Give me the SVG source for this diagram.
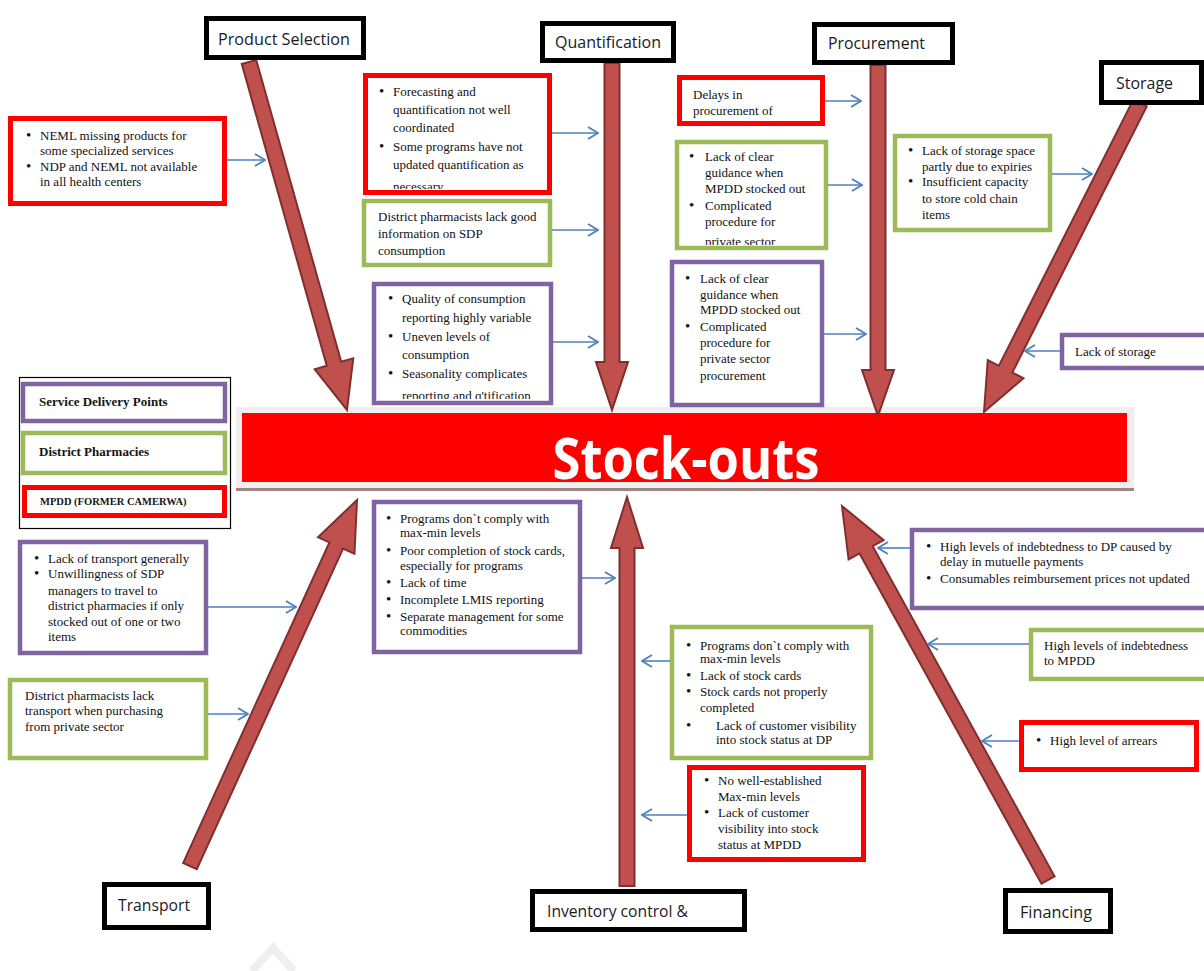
<svg xmlns="http://www.w3.org/2000/svg" width="1204" height="971" viewBox="0 0 1204 971">
<style>
.bg{fill:#ffffff}
.cat rect{fill:#ffffff;stroke:#000000;stroke-width:5}
.cat text{font-family:"Open Sans","Liberation Sans",sans-serif;font-size:16px;fill:#1a1a24}
.box{fill:#ffffff}
.r{stroke:#ff0000;stroke-width:5}
.g{stroke:#9bbb59;stroke-width:4.5}
.p{stroke:#8064a2;stroke-width:4.5}
.t{font-family:"Liberation Serif","Times New Roman",serif;font-size:13px;fill:#111111}
.b{font-size:15px}
.lg{font-family:"Liberation Serif","Times New Roman",serif;font-weight:bold;fill:#151515}
.spine{fill:#c0504d;stroke:#7f2f2d;stroke-width:2;stroke-linejoin:miter}
.conn line{stroke:#4f81bd;stroke-width:1.6;marker-end:url(#chev)}
</style>
<defs>
<marker id="chev" viewBox="0 0 12 14" refX="11" refY="7" markerWidth="12" markerHeight="14" markerUnits="userSpaceOnUse" orient="auto">
<path d="M1,1 L11,7 L1,13" fill="none" stroke="#4f81bd" stroke-width="1.8"/>
</marker>
<clipPath id="cq1"><rect x="368" y="78" width="180" height="111"/></clipPath>
<clipPath id="cq3"><rect x="374" y="285" width="176" height="114"/></clipPath>
<clipPath id="cp2"><rect x="679" y="143" width="146" height="102"/></clipPath>
</defs>
<rect class="bg" x="0" y="0" width="1204" height="971"/>

<!-- watermark -->
<polyline points="252,971 273,948 294,971" fill="none" stroke="#efefef" stroke-width="8"/>

<!-- head: Stock-outs -->
<g id="stockouts">
<rect x="236" y="407" width="898" height="82" fill="#efefef"/>
<rect x="242" y="413" width="885" height="69" fill="#ff0000"/>
<line x1="236" y1="489.5" x2="1134" y2="489.5" stroke="#a08585" stroke-width="3"/>
<text x="686" y="479" text-anchor="middle" font-family="Open Sans, Liberation Sans, sans-serif" font-weight="bold" font-size="58" fill="#ffffff" textLength="267" lengthAdjust="spacingAndGlyphs">Stock-outs</text>
</g>

<!-- spines -->
<g id="spines">
<polygon class="spine" points="241.78,64.03 326.77,365.82 314.74,369.21 347,410 353.24,358.37 341.21,361.76 256.22,59.97"/>
<polygon class="spine" points="604.5,63 604.5,362 596,362 612,410 628,362 619.5,362 619.5,63"/>
<polygon class="spine" points="870.5,65 870.5,370 862,370 878,416 894,370 885.5,370 885.5,65"/>
<polygon class="spine" points="1133.3,99.62 998.93,365.77 987.77,360.14 984,412 1023.49,378.16 1012.33,372.53 1146.7,106.38"/>
<polygon class="spine" points="196.82,869.11 343.06,548.6 354.44,553.79 357,500 318.04,537.19 329.42,542.38 183.18,862.89"/>
<polygon class="spine" points="619.5,886 619.5,548 611,548 627,497 643,548 634.5,548 634.5,886"/>
<polygon class="spine" points="1054.57,876.38 872.69,546.18 883.64,540.15 842,506 848.6,559.45 859.55,553.42 1041.43,883.62"/>
</g>

<!-- category labels -->
<g id="cat-product" class="cat"><rect x="206.5" y="18.5" width="157" height="39"/><text x="218" y="45" textLength="132" lengthAdjust="spacingAndGlyphs">Product Selection</text></g>
<g id="cat-quant" class="cat"><rect x="542.5" y="23.5" width="131" height="37"/><text x="555" y="48" textLength="106" lengthAdjust="spacingAndGlyphs">Quantification</text></g>
<g id="cat-proc" class="cat"><rect x="814.5" y="24.5" width="138" height="38"/><text x="828" y="49" textLength="97" lengthAdjust="spacingAndGlyphs">Procurement</text></g>
<g id="cat-storage" class="cat"><rect x="1101.5" y="62.5" width="100" height="40"/><text x="1116" y="89" textLength="57" lengthAdjust="spacingAndGlyphs">Storage</text></g>
<g id="cat-transport" class="cat"><rect x="104.5" y="884.5" width="104" height="43"/><text x="118" y="911" textLength="72" lengthAdjust="spacingAndGlyphs">Transport</text></g>
<g id="cat-inventory" class="cat"><rect x="532.5" y="891.5" width="212" height="38"/><text x="547" y="917" textLength="141" lengthAdjust="spacingAndGlyphs">Inventory control &amp;</text></g>
<g id="cat-financing" class="cat"><rect x="1005.5" y="890.5" width="105" height="41"/><text x="1020" y="918" textLength="72" lengthAdjust="spacingAndGlyphs">Financing</text></g>

<!-- legend -->
<g id="legend">
<rect x="19.5" y="377.5" width="211" height="151" fill="#ffffff" stroke="#000000" stroke-width="1.2"/>
<rect class="box p" x="23" y="384" width="202" height="37"/>
<text class="lg" x="39" y="406" font-size="13">Service Delivery Points</text>
<rect class="box g" x="23" y="433" width="202" height="40"/>
<text class="lg" x="39" y="456" font-size="13">District Pharmacies</text>
<rect class="box r" x="24.5" y="487.5" width="200" height="28"/>
<text class="lg" x="40" y="505" font-size="10.5">MPDD (FORMER CAMERWA)</text>
</g>

<!-- Product selection cause -->
<g id="c-neml">
<rect class="box r" x="10.5" y="118.5" width="214" height="85"/>
<text class="t"><tspan class="b" x="26" y="140">•</tspan><tspan x="40" y="140">NEML missing products for</tspan><tspan x="40" y="155">some specialized services</tspan><tspan class="b" x="26" y="171">•</tspan><tspan x="40" y="171">NDP and NEML not available</tspan><tspan x="40" y="186">in all health centers</tspan></text>
</g>

<!-- Quantification causes -->
<g id="c-quant-mpdd">
<rect class="box r" x="365.5" y="75.5" width="184" height="117"/>
<text class="t" clip-path="url(#cq1)"><tspan class="b" x="379" y="96">•</tspan><tspan x="393" y="96">Forecasting and</tspan><tspan x="393" y="114">quantification not well</tspan><tspan x="393" y="132">coordinated</tspan><tspan class="b" x="379" y="151">•</tspan><tspan x="393" y="151">Some programs have not</tspan><tspan x="393" y="169">updated quantification as</tspan><tspan x="393" y="191">necessary</tspan></text>
</g>
<g id="c-quant-dp">
<rect class="box g" x="364" y="201" width="186" height="64"/>
<text class="t"><tspan x="378" y="221">District pharmacists lack good</tspan><tspan x="378" y="238">information on SDP</tspan><tspan x="378" y="255">consumption</tspan></text>
</g>
<g id="c-quant-sdp">
<rect class="box p" x="374" y="284" width="177" height="119"/>
<text class="t" clip-path="url(#cq3)"><tspan class="b" x="388" y="303">•</tspan><tspan x="402" y="303">Quality of consumption</tspan><tspan x="402" y="322">reporting highly variable</tspan><tspan class="b" x="388" y="341">•</tspan><tspan x="402" y="341">Uneven levels of</tspan><tspan x="402" y="359">consumption</tspan><tspan class="b" x="388" y="378">•</tspan><tspan x="402" y="378">Seasonality complicates</tspan><tspan x="402" y="400">reporting and q'tification</tspan></text>
</g>

<!-- Procurement causes -->
<g id="c-proc-mpdd">
<rect class="box r" x="679.5" y="77.5" width="143" height="46"/>
<text class="t"><tspan x="693" y="99">Delays in</tspan><tspan x="693" y="115">procurement of</tspan></text>
</g>
<g id="c-proc-dp">
<rect class="box g" x="677" y="142" width="149" height="106"/>
<text class="t" clip-path="url(#cp2)"><tspan class="b" x="689" y="161">•</tspan><tspan x="705" y="161">Lack of clear</tspan><tspan x="705" y="177">guidance when</tspan><tspan x="705" y="193">MPDD stocked out</tspan><tspan class="b" x="689" y="210">•</tspan><tspan x="705" y="210">Complicated</tspan><tspan x="705" y="226">procedure for</tspan><tspan x="705" y="246">private sector</tspan></text>
</g>
<g id="c-proc-sdp">
<rect class="box p" x="672" y="262" width="150" height="143"/>
<text class="t"><tspan class="b" x="685" y="283">•</tspan><tspan x="700" y="283">Lack of clear</tspan><tspan x="700" y="299">guidance when</tspan><tspan x="700" y="314">MPDD stocked out</tspan><tspan class="b" x="685" y="331">•</tspan><tspan x="700" y="331">Complicated</tspan><tspan x="700" y="347">procedure for</tspan><tspan x="700" y="363">private sector</tspan><tspan x="700" y="380">procurement</tspan></text>
</g>

<!-- Storage causes -->
<g id="c-storage-dp">
<rect class="box g" x="895" y="136" width="155" height="94"/>
<text class="t"><tspan class="b" x="908" y="155">•</tspan><tspan x="922" y="155">Lack of storage space</tspan><tspan x="922" y="171">partly due to expiries</tspan><tspan class="b" x="908" y="186">•</tspan><tspan x="922" y="186">Insufficient capacity</tspan><tspan x="922" y="203">to store cold chain</tspan><tspan x="922" y="219">items</tspan></text>
</g>
<g id="c-storage-sdp">
<rect class="box p" x="1062" y="335" width="150" height="33"/>
<text class="t"><tspan x="1075" y="356">Lack of storage</tspan></text>
</g>

<!-- Transport causes -->
<g id="c-trans-sdp">
<rect class="box p" x="20" y="542" width="186" height="111"/>
<text class="t"><tspan class="b" x="34" y="563">•</tspan><tspan x="48" y="563">Lack of transport generally</tspan><tspan class="b" x="34" y="578">•</tspan><tspan x="48" y="578">Unwillingness of SDP</tspan><tspan x="48" y="595">managers to travel to</tspan><tspan x="48" y="610">district pharmacies if only</tspan><tspan x="48" y="626">stocked out of one or two</tspan><tspan x="48" y="641">items</tspan></text>
</g>
<g id="c-trans-dp">
<rect class="box g" x="10" y="680" width="196" height="78"/>
<text class="t"><tspan x="25" y="700">District pharmacists lack</tspan><tspan x="25" y="715">transport when purchasing</tspan><tspan x="25" y="731">from private sector</tspan></text>
</g>

<!-- Inventory causes -->
<g id="c-inv-sdp">
<rect class="box p" x="374" y="502" width="206" height="150"/>
<text class="t"><tspan class="b" x="386" y="523">•</tspan><tspan x="400" y="523">Programs don`t comply with</tspan><tspan x="400" y="537">max-min levels</tspan><tspan class="b" x="386" y="555">•</tspan><tspan x="400" y="555">Poor completion of stock cards,</tspan><tspan x="400" y="570">especially for programs</tspan><tspan class="b" x="386" y="587">•</tspan><tspan x="400" y="587">Lack of time</tspan><tspan class="b" x="386" y="604">•</tspan><tspan x="400" y="604">Incomplete LMIS reporting</tspan><tspan class="b" x="386" y="621">•</tspan><tspan x="400" y="621">Separate management for some</tspan><tspan x="400" y="635">commodities</tspan></text>
</g>
<g id="c-inv-dp">
<rect class="box g" x="672" y="627" width="199" height="131"/>
<text class="t"><tspan class="b" x="686" y="650">•</tspan><tspan x="700" y="650">Programs don`t comply with</tspan><tspan x="700" y="663">max-min levels</tspan><tspan class="b" x="686" y="680">•</tspan><tspan x="700" y="680">Lack of stock cards</tspan><tspan class="b" x="686" y="696">•</tspan><tspan x="700" y="696">Stock cards not properly</tspan><tspan x="700" y="712">completed</tspan><tspan class="b" x="686" y="730">•</tspan><tspan x="716" y="730">Lack of customer visibility</tspan><tspan x="716" y="744">into stock status at DP</tspan></text>
</g>
<g id="c-inv-mpdd">
<rect class="box r" x="689.5" y="767.5" width="174" height="92"/>
<text class="t"><tspan class="b" x="704" y="785">•</tspan><tspan x="718" y="785">No well-established</tspan><tspan x="718" y="801">Max-min levels</tspan><tspan class="b" x="704" y="817">•</tspan><tspan x="718" y="817">Lack of customer</tspan><tspan x="718" y="833">visibility into stock</tspan><tspan x="718" y="849">status at MPDD</tspan></text>
</g>

<!-- Financing causes -->
<g id="c-fin-sdp">
<rect class="box p" x="912" y="530" width="300" height="78"/>
<text class="t"><tspan class="b" x="926" y="551">•</tspan><tspan x="940" y="551">High levels of indebtedness to DP caused by</tspan><tspan x="940" y="566">delay in mutuelle payments</tspan><tspan class="b" x="926" y="583">•</tspan><tspan x="940" y="583">Consumables reimbursement prices not updated</tspan></text>
</g>
<g id="c-fin-dp">
<rect class="box g" x="1031" y="630" width="180" height="49"/>
<text class="t"><tspan x="1044" y="650">High levels of indebtedness</tspan><tspan x="1044" y="665">to MPDD</tspan></text>
</g>
<g id="c-fin-mpdd">
<rect class="box r" x="1021.5" y="722.5" width="175" height="47"/>
<text class="t"><tspan class="b" x="1036" y="745">•</tspan><tspan x="1050" y="745">High level of arrears</tspan></text>
</g>

<!-- connectors -->
<g id="connectors" class="conn">
<line x1="227" y1="160" x2="265" y2="160"/>
<line x1="552" y1="133" x2="598" y2="133"/>
<line x1="552" y1="230" x2="598" y2="230"/>
<line x1="553" y1="342" x2="598" y2="342"/>
<line x1="825" y1="101" x2="861" y2="101"/>
<line x1="828" y1="185" x2="862" y2="185"/>
<line x1="824" y1="334" x2="866" y2="334"/>
<line x1="1052" y1="174" x2="1092" y2="174"/>
<line x1="1060" y1="351" x2="1025" y2="351"/>
<line x1="208" y1="607" x2="296" y2="607"/>
<line x1="208" y1="714" x2="248" y2="714"/>
<line x1="582" y1="578" x2="615" y2="578"/>
<line x1="670" y1="661" x2="642" y2="661"/>
<line x1="687" y1="815" x2="642" y2="815"/>
<line x1="910" y1="548" x2="878" y2="548"/>
<line x1="1029" y1="644" x2="928" y2="644"/>
<line x1="1019" y1="741" x2="982" y2="741"/>
</g>
</svg>
